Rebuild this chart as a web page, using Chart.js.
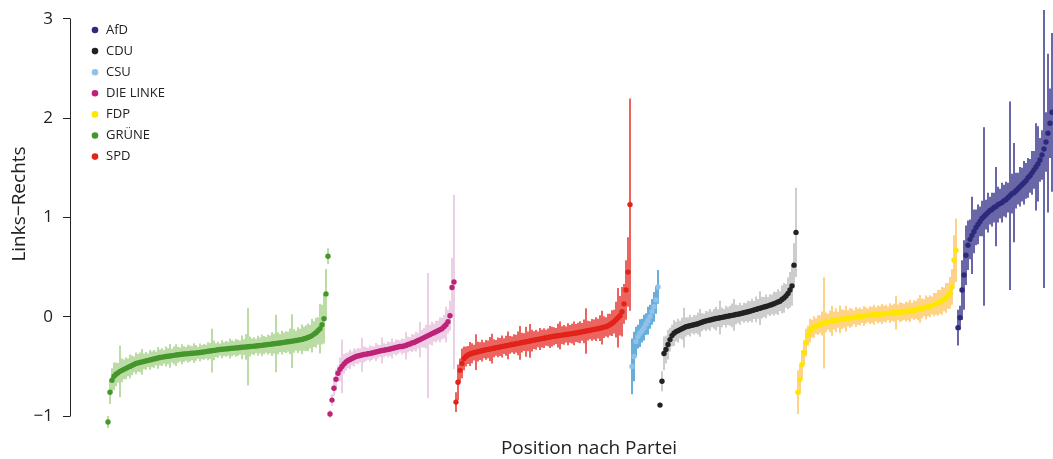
<!DOCTYPE html>
<html><head><meta charset="utf-8">
<script src="https://cdn.jsdelivr.net/npm/chart.js@4.4.1/dist/chart.umd.min.js"></script>
<style>html,body{margin:0;padding:0;background:#fff;overflow:hidden}#wrap{width:1053px;height:459px;position:relative}</style>
</head><body><div id="wrap"><canvas id="c"></canvas></div>
<script>
// ---- data ----
const parties = ['GRÜNE','DIE LINKE','SPD','CSU','CDU','FDP','AfD'];
const legendOrder = ['AfD','CDU','CSU','DIE LINKE','FDP','GRÜNE','SPD'];
const yTicks = [-1,0,1,2,3];
const yTitle = 'Links\u2212Rechts';
const xTitle = 'Position nach Partei';

const meanGruene = [-1.06,-0.76,-0.64,-0.60,-0.58,-0.565,-0.55,-0.54,-0.53,-0.52,
-0.51,-0.50,-0.49,-0.48,-0.47,-0.465,-0.46,-0.455,-0.45,-0.445,
-0.44,-0.435,-0.43,-0.425,-0.42,-0.415,-0.41,-0.407,-0.404,-0.401,
-0.398,-0.395,-0.392,-0.389,-0.386,-0.383,-0.38,-0.378,-0.376,-0.374,
-0.372,-0.37,-0.368,-0.366,-0.364,-0.362,-0.36,-0.357,-0.354,-0.351,
-0.348,-0.345,-0.342,-0.339,-0.336,-0.333,-0.33,-0.328,-0.326,-0.324,
-0.322,-0.32,-0.318,-0.316,-0.314,-0.312,-0.31,-0.308,-0.306,-0.304,
-0.302,-0.30,-0.298,-0.296,-0.294,-0.292,-0.29,-0.288,-0.285,-0.283,
-0.28,-0.278,-0.275,-0.272,-0.27,-0.267,-0.264,-0.261,-0.258,-0.255,
-0.252,-0.249,-0.246,-0.243,-0.24,-0.236,-0.232,-0.228,-0.222,-0.216,
-0.208,-0.20,-0.19,-0.175,-0.16,-0.14,-0.12,-0.08,-0.02,0.23,
0.61];
const errGruene = [0.06,0.12,0.12,0.14,0.12,0.10,0.26,0.12,0.10,0.11,
0.09,0.12,0.10,0.08,0.11,0.09,0.10,0.13,0.08,0.09,
0.07,0.10,0.08,0.09,0.07,0.11,0.08,0.09,0.07,0.10,
0.08,0.12,0.07,0.09,0.11,0.08,0.07,0.10,0.08,0.07,
0.09,0.08,0.07,0.10,0.08,0.06,0.09,0.07,0.08,0.07,
0.09,0.08,0.22,0.10,0.07,0.08,0.06,0.09,0.07,0.08,
0.07,0.10,0.08,0.07,0.09,0.08,0.07,0.12,0.08,0.13,
0.39,0.10,0.08,0.09,0.07,0.10,0.08,0.11,0.09,0.08,
0.10,0.09,0.12,0.10,0.29,0.11,0.09,0.12,0.10,0.11,
0.10,0.13,0.27,0.12,0.10,0.13,0.11,0.15,0.12,0.13,
0.14,0.12,0.17,0.13,0.15,0.14,0.25,0.20,0.25,0.25,
0.08];

const meanLinke = [-0.98,-0.84,-0.72,-0.63,-0.57,-0.53,-0.50,-0.475,-0.455,-0.44,
-0.43,-0.42,-0.41,-0.40,-0.395,-0.39,-0.385,-0.38,-0.377,-0.373,
-0.37,-0.365,-0.36,-0.355,-0.35,-0.345,-0.34,-0.337,-0.333,-0.33,
-0.325,-0.32,-0.315,-0.31,-0.305,-0.30,-0.30,-0.295,-0.29,-0.28,
-0.275,-0.265,-0.26,-0.25,-0.24,-0.23,-0.22,-0.21,-0.20,-0.19,
-0.18,-0.17,-0.16,-0.15,-0.14,-0.13,-0.12,-0.10,-0.08,-0.05,
0.01,0.295,0.35];
const errLinke = [0.04,0.06,0.08,0.10,0.08,0.12,0.27,0.10,0.09,0.08,
0.10,0.07,0.09,0.07,0.08,0.07,0.17,0.08,0.07,0.06,
0.08,0.07,0.06,0.09,0.07,0.06,0.13,0.07,0.06,0.08,
0.07,0.10,0.06,0.08,0.07,0.06,0.08,0.07,0.14,0.08,
0.07,0.09,0.08,0.10,0.08,0.18,0.09,0.10,0.12,0.63,
0.10,0.12,0.09,0.11,0.10,0.13,0.11,0.12,0.18,0.12,
0.15,0.30,0.88];

const meanSpd = [-0.86,-0.66,-0.54,-0.47,-0.42,-0.40,-0.385,-0.375,-0.368,-0.362,
-0.357,-0.352,-0.347,-0.342,-0.337,-0.333,-0.329,-0.325,-0.321,-0.317,
-0.313,-0.309,-0.305,-0.30,-0.296,-0.292,-0.288,-0.284,-0.28,-0.276,
-0.272,-0.268,-0.264,-0.26,-0.256,-0.252,-0.248,-0.244,-0.24,-0.236,
-0.232,-0.228,-0.224,-0.22,-0.216,-0.212,-0.208,-0.204,-0.20,-0.197,
-0.194,-0.191,-0.188,-0.185,-0.182,-0.179,-0.176,-0.173,-0.17,-0.167,
-0.164,-0.16,-0.156,-0.152,-0.148,-0.144,-0.14,-0.136,-0.132,-0.128,
-0.124,-0.12,-0.115,-0.11,-0.105,-0.10,-0.09,-0.08,-0.065,-0.05,
-0.03,-0.01,0.01,0.05,0.13,0.27,0.45,1.13];
const errSpd = [0.10,0.18,0.12,0.15,0.12,0.10,0.09,0.12,0.10,0.08,
0.18,0.10,0.09,0.11,0.08,0.10,0.09,0.12,0.15,0.09,
0.08,0.10,0.09,0.11,0.08,0.10,0.14,0.09,0.08,0.10,
0.09,0.12,0.17,0.10,0.09,0.15,0.10,0.17,0.11,0.09,
0.10,0.08,0.11,0.09,0.10,0.08,0.09,0.11,0.10,0.09,
0.08,0.12,0.14,0.09,0.10,0.08,0.11,0.09,0.10,0.12,
0.09,0.10,0.11,0.09,0.12,0.23,0.10,0.09,0.11,0.10,
0.12,0.10,0.13,0.17,0.11,0.10,0.12,0.11,0.13,0.12,
0.18,0.30,0.20,0.25,0.20,0.30,0.35,1.07];

const meanCsu = [-0.50,-0.40,-0.25,-0.20,-0.165,-0.14,-0.11,-0.075,-0.04,0.00,0.05,0.10,0.17,0.30];
const errCsu = [0.28,0.25,0.15,0.12,0.14,0.12,0.13,0.11,0.14,0.12,0.13,0.15,0.14,0.17];

const meanCdu = [-0.89,-0.65,-0.37,-0.33,-0.28,-0.23,-0.19,-0.165,-0.15,-0.14,
-0.13,-0.12,-0.11,-0.10,-0.095,-0.09,-0.085,-0.08,-0.075,-0.07,
-0.062,-0.055,-0.048,-0.042,-0.037,-0.032,-0.027,-0.022,-0.018,-0.014,
-0.01,-0.006,-0.002,0.002,0.006,0.01,0.014,0.018,0.022,0.026,
0.03,0.035,0.04,0.045,0.05,0.056,0.062,0.068,0.074,0.08,
0.086,0.092,0.098,0.104,0.11,0.117,0.124,0.132,0.14,0.148,
0.157,0.175,0.19,0.21,0.235,0.27,0.31,0.52,0.85];
const errCdu = [0.02,0.10,0.17,0.14,0.15,0.12,0.11,0.13,0.10,0.12,
0.09,0.11,0.20,0.10,0.09,0.11,0.08,0.10,0.09,0.11,
0.14,0.09,0.08,0.10,0.09,0.11,0.08,0.10,0.12,0.09,
0.17,0.10,0.08,0.11,0.09,0.10,0.12,0.16,0.10,0.09,
0.11,0.08,0.10,0.09,0.11,0.10,0.12,0.09,0.13,0.10,
0.17,0.11,0.10,0.12,0.09,0.11,0.10,0.12,0.11,0.13,
0.10,0.14,0.15,0.12,0.16,0.18,0.20,0.22,0.45];

const meanFdp = [-0.76,-0.63,-0.48,-0.36,-0.26,-0.19,-0.14,-0.12,-0.105,-0.095,
-0.085,-0.075,-0.068,-0.062,-0.056,-0.05,-0.046,-0.042,-0.038,-0.034,
-0.03,-0.027,-0.024,-0.021,-0.018,-0.015,-0.012,-0.009,-0.006,-0.003,
0.0,0.003,0.006,0.009,0.012,0.014,0.016,0.018,0.02,0.022,
0.024,0.026,0.028,0.03,0.032,0.034,0.036,0.038,0.04,0.042,
0.044,0.046,0.048,0.05,0.052,0.055,0.058,0.062,0.066,0.07,
0.075,0.08,0.085,0.09,0.095,0.10,0.106,0.113,0.12,0.13,
0.14,0.15,0.16,0.175,0.19,0.21,0.24,0.30,0.57,0.67];
const errFdp = [0.22,0.15,0.14,0.12,0.14,0.10,0.12,0.09,0.11,0.08,
0.10,0.09,0.12,0.46,0.10,0.08,0.11,0.15,0.09,0.12,
0.08,0.14,0.10,0.09,0.13,0.08,0.10,0.09,0.07,0.10,
0.08,0.09,0.07,0.10,0.08,0.07,0.09,0.08,0.10,0.07,
0.09,0.08,0.10,0.08,0.09,0.07,0.10,0.08,0.09,0.17,
0.08,0.10,0.09,0.08,0.10,0.09,0.11,0.08,0.10,0.09,
0.11,0.14,0.10,0.09,0.12,0.10,0.11,0.09,0.12,0.11,
0.13,0.12,0.14,0.12,0.15,0.13,0.16,0.18,0.25,0.32];

const meanAfd = [-0.11,-0.01,0.27,0.42,0.62,0.72,0.78,0.82,0.86,0.90,
0.93,0.96,0.99,1.01,1.03,1.05,1.07,1.08,1.10,1.11,
1.13,1.14,1.15,1.17,1.18,1.20,1.22,1.24,1.25,1.27,
1.29,1.31,1.33,1.35,1.37,1.40,1.42,1.45,1.48,1.51,
1.54,1.58,1.63,1.69,1.76,1.85,1.95,2.06];
const errAfd = [0.18,0.12,0.30,0.35,0.30,0.25,0.20,0.39,0.22,0.18,
0.20,0.15,0.18,0.90,0.15,0.20,0.14,0.17,0.15,0.40,
0.18,0.15,0.20,0.16,0.18,0.15,0.95,0.20,0.50,0.18,
0.16,0.20,0.17,0.22,0.18,0.20,0.17,0.22,0.19,0.44,
0.38,0.22,0.25,1.40,0.30,0.80,0.35,0.80];

// ---- styles ----
const pointColor = {'AfD':'#2d2a7e','CDU':'#222222','CSU':'#8fc1e9','DIE LINKE':'#be2379','FDP':'#ffe600','GRÜNE':'#45972c','SPD':'#e2231a'};
const barColor   = {'AfD':'#37348a','CDU':'#bdbdbd','CSU':'#3593d1','DIE LINKE':'#e6bfdb','FDP':'#ffc45c','GRÜNE':'#a6d189','SPD':'#e5302a'};
const series = {'GRÜNE':[meanGruene,errGruene],'DIE LINKE':[meanLinke,errLinke],'SPD':[meanSpd,errSpd],
  'CSU':[meanCsu,errCsu],'CDU':[meanCdu,errCdu],'FDP':[meanFdp,errFdp],'AfD':[meanAfd,errAfd]};

const datasets = [];
let offset = 0;
parties.forEach(p => {
  const [m, e] = series[p];
  const base = offset;
  datasets.push({type:'bar', label:p+' err', data:m.map((v,j)=>({x:base+j, y:[v-e[j], v+e[j]]})),
    backgroundColor:barColor[p], borderWidth:0, barThickness:1.5, inflateAmount:0, grouped:false, order:2, clip:false});
  datasets.push({type:'scatter', label:p, data:m.map((v,j)=>({x:base+j, y:v})),
    backgroundColor:pointColor[p], pointRadius:2.7, pointBorderWidth:0, order:1, clip:false});
  offset += m.length;
});

const annot = {
  id:'annot',
  afterDraw(chart){
    const ctx = chart.ctx;
    const ys = chart.scales.y;
    ctx.save();
    // range-frame axis line from -1 to 3
    ctx.strokeStyle = '#222'; ctx.lineWidth = 1;
    const ax = Math.round(ys.right) + 0.5;
    ctx.beginPath();
    ctx.moveTo(ax, ys.getPixelForValue(yTicks[0]) + 0.5);
    ctx.lineTo(ax, ys.getPixelForValue(yTicks[yTicks.length-1]) - 0.5);
    ctx.stroke();
    ctx.fillStyle = '#222';
    ctx.font = '19px "Open Sans"';
    ctx.textAlign = 'center'; ctx.textBaseline = 'alphabetic';
    ctx.fillText(xTitle, 589, 454);
    ctx.save();
    ctx.translate(25, 204); ctx.rotate(-Math.PI/2);
    ctx.fillText(yTitle, 0, 0);
    ctx.restore();
    ctx.font = '13px "Open Sans"';
    ctx.textAlign = 'left'; ctx.textBaseline = 'middle';
    legendOrder.forEach((p,k) => {
      const y = 30 + 21.1*k;
      ctx.fillStyle = pointColor[p];
      ctx.beginPath(); ctx.arc(95, y, 3.3, 0, Math.PI*2); ctx.fill();
      ctx.fillStyle = '#222';
      ctx.fillText(p, 106, y);
    });
    ctx.restore();
  }
};

new Chart(document.getElementById('c'), {
  type:'scatter',
  data:{datasets},
  options:{
    responsive:true, maintainAspectRatio:false, animation:false, events:[],
    layout:{autoPadding:false, padding:{left:0,right:0,top:0,bottom:23}},
    plugins:{legend:{display:false}, tooltip:{enabled:false}},
    scales:{
      x:{type:'linear', min:-19, max:472.5, display:false, offset:false},
      y:{type:'linear', min:-1.2015, max:3.1914,
        afterFit(s){ s.width = 70; s.paddingTop = 0; s.paddingBottom = 0; },
        afterBuildTicks(s){ s.ticks = yTicks.map(v=>({value:v})); },
        ticks:{padding:10, color:'#222', font:{family:'"Open Sans"', size:17},
          callback:v => v < 0 ? '\u2212' + Math.abs(v) : String(v)},
        grid:{drawOnChartArea:false, drawTicks:true, tickLength:7, color:'#222', lineWidth:1},
        border:{display:false}
      }
    }
  },
  plugins:[annot]
});
</script></body></html>
